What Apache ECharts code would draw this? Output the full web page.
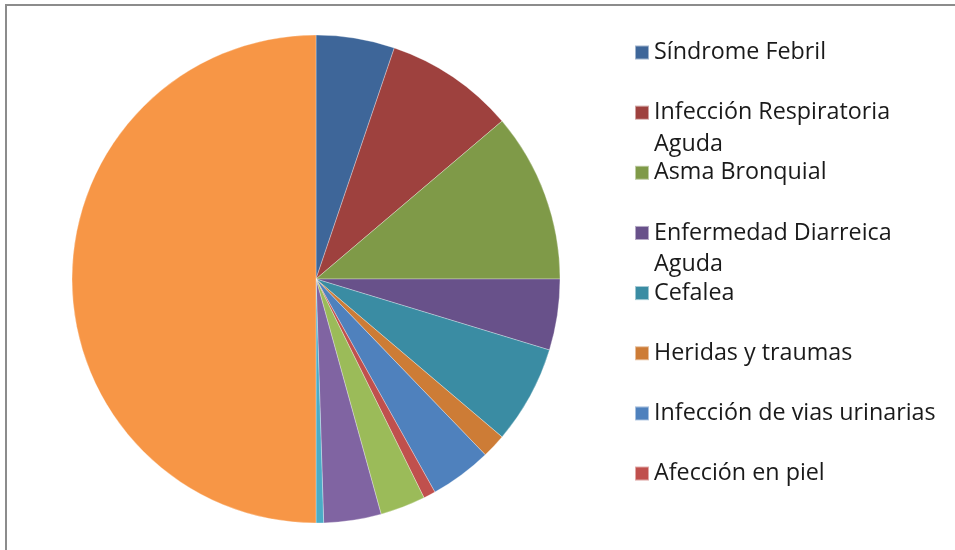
<!DOCTYPE html>
<html>
<head>
<meta charset="utf-8">
<script src="https://cdn.jsdelivr.net/npm/echarts@6/dist/echarts.min.js"></script>
<style>
  html, body { margin: 0; padding: 0; background: #fff; }
  #main { width: 955px; height: 550px; }
  #frame {
    position: absolute; left: 5px; top: 4px; width: 960px; height: 560px;
    border-top: 2px solid #8c8c8c; border-left: 2px solid #8c8c8c;
    pointer-events: none;
  }
</style>
</head>
<body>
<div id="main"></div>
<div id="frame"></div>
<script>
// categorias (las 4 ultimas no aparecen en la leyenda)
var categories = [
    'Síndrome Febril', 'Infección Respiratoria Aguda', 'Asma Bronquial',
    'Enfermedad Diarreica Aguda', 'Cefalea', 'Heridas y traumas',
    'Infección de vias urinarias', 'Afección en piel',
    'Categoría 9', 'Categoría 10', 'Categoría 11', 'Categoría 12'
];
var values = [52, 86, 112, 47, 65, 16, 41, 8, 30, 38, 5, 500];
var colors = [
    '#3E6699', '#9E413E', '#7F9A48', '#68518A', '#3A8CA3', '#CD7C36',
    '#4F81BD', '#C0504D', '#9BBB59', '#8064A2', '#4BACC6', '#F79646'
];
// etiquetas de la leyenda con salto de linea como en el original
// (la linea vacia inicial deja el icono a la altura de la primera linea)
var legendLabels = {
    'Infección Respiratoria Aguda': '\nInfección Respiratoria\nAguda',
    'Enfermedad Diarreica Aguda': '\nEnfermedad Diarreica\nAguda'
};
var legendCount = 8;

var chart = echarts.init(document.getElementById('main'));

var lineH = 31.5, firstY = 52.5, stepY = 60.15;
var legends = [];
for (var i = 0; i < legendCount; i++) {
    var name = categories[i];
    var wrapped = !!legendLabels[name];
    legends.push({
        data: [name],
        left: 634,
        top: wrapped ? firstY + i * stepY - 1.5 * lineH : firstY + i * stepY - lineH / 2,
        padding: 0,
        itemWidth: 14,
        itemHeight: 14,
        itemGap: 0,
        icon: 'rect',
        selectedMode: false,
        formatter: function (n) { return legendLabels[n] || n; },
        textStyle: {
            fontFamily: 'Open Sans',
            fontSize: 23.3,
            color: '#1a1a1a',
            lineHeight: lineH
        }
    });
}

var data = [];
for (var j = 0; j < categories.length; j++) {
    data.push({ name: categories[j], value: values[j], itemStyle: { color: colors[j] } });
}

chart.setOption({
    animation: false,
    legend: legends,
    series: [{
        type: 'pie',
        center: [316, 279],
        radius: 244,
        startAngle: 90,
        clockwise: true,
        avoidLabelOverlap: false,
        label: { show: false },
        labelLine: { show: false },
        emphasis: { disabled: true },
        itemStyle: { borderColor: 'rgba(255,255,255,0.5)', borderWidth: 0.6 },
        data: data
    }]
});
</script>
</body>
</html>
